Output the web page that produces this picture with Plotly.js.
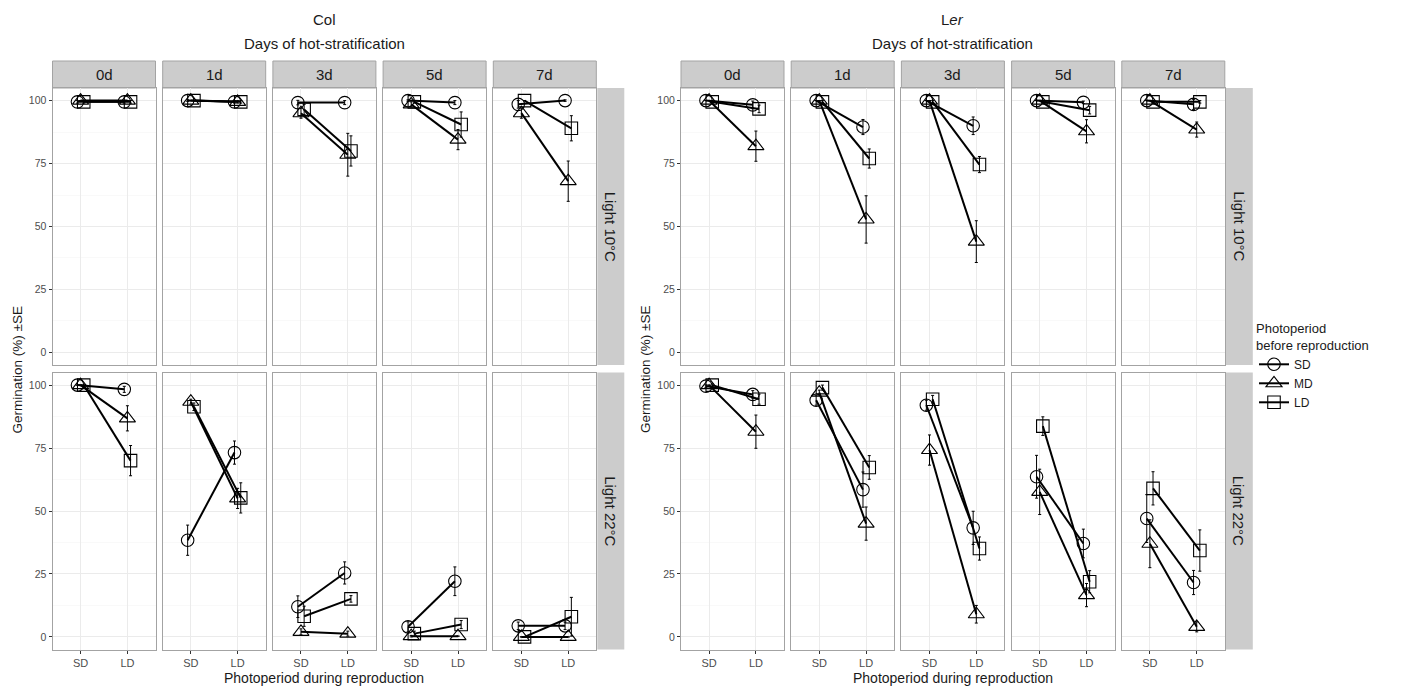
<!DOCTYPE html>
<html>
<head>
<meta charset="utf-8">
<script src="https://cdn.plot.ly/plotly-3.0.1.min.js"></script>
<style>html,body{margin:0;padding:0;background:#fff;}#chart{width:1403px;height:686px;}</style>
</head>
<body>
<div id="chart"></div>
<script>
// ---------- data ----------
const groups = ['Col', 'L<i>er</i>'];
const days = ['0d', '1d', '3d', '5d', '7d'];
const conditions = ['Light 10°C', 'Light 22°C'];
const photoDuring = ['SD', 'LD'];          // x categories
const photoBefore = ['SD', 'MD', 'LD'];    // series
const yTicks = [0, 25, 50, 75, 100];

// each entry: one day, [value at SD, value at LD]
// Col, Light 10°C
const col10_SD_mean = [[99.5, 99.5], [100, 99.5], [99.2, 99.2], [100, 99.2], [98.5, 100]];
const col10_SD_se   = [[0.5, 0.5], [0.3, 0.5], [0.9, 0.8], [0.3, 0.8], [1.5, 0.3]];
const col10_MD_mean = [[100, 100], [100, 99.5], [95, 78.5], [98.5, 84.5], [95, 68]];
const col10_MD_se   = [[0, 0], [0, 0.5], [2, 8.5], [1, 4], [2, 8]];
const col10_LD_mean = [[99.5, 99.5], [100, 99.5], [96.5, 80], [99.5, 90.5], [100, 89]];
const col10_LD_se   = [[0.5, 0.5], [0, 0.5], [2, 6], [0.5, 5], [0, 5]];
// Col, Light 22°C
const col22_SD_mean = [[100, 98.3], [38.4, 73.2], [12, 25.4], [4, 22.1], [4.4, 4.4]];
const col22_SD_se   = [[0, 1.2], [6, 4.6], [4.3, 4.4], [2, 5.7], [1.5, 1.5]];
const col22_MD_mean = [[100, 86.8], [93.4, 55], [2, 1.3], [0.3, 0.3], [0, 0]];
const col22_MD_se   = [[0, 5], [1, 4], [1.2, 1], [0.3, 0], [0, 0]];
const col22_LD_mean = [[100, 70], [91.4, 55.2], [8.2, 15.1], [1.3, 4.9], [0, 8]];
const col22_LD_se   = [[0, 6], [1.5, 6], [4, 1.3], [1, 1.6], [0, 7.7]];
// Ler, Light 10°C
const ler10_SD_mean = [[100, 98.3], [100, 89.5], [100, 90], [100, 99.3], [100, 98.5]];
const ler10_SD_se   = [[0, 1.5], [0, 3], [0, 3.5], [0, 0.5], [0, 2]];
const ler10_MD_mean = [[100, 81.9], [100, 52.8], [100, 44], [100, 87.8], [100, 88.5]];
const ler10_MD_se   = [[0, 6], [0, 9.4], [0, 8.3], [0, 4.6], [0, 3]];
const ler10_LD_mean = [[99.5, 96.7], [99.5, 77], [99.5, 74.6], [99.5, 96.2], [99.5, 99.5]];
const ler10_LD_se   = [[0.5, 1.5], [0.5, 3.8], [0.5, 3.2], [0.5, 1.5], [0.5, 0.5]];
// Ler, Light 22°C
const ler22_SD_mean = [[99.6, 96.3], [94, 58.5], [92, 43.3], [63.6, 37.1], [47, 21.6]];
const ler22_SD_se   = [[0.5, 1.5], [2, 7], [2, 6.6], [8.5, 5.7], [9.5, 4.8]];
const ler22_MD_mean = [[100, 81.5], [97, 45], [74.2, 9], [57.6, 16.6], [37, 4]];
const ler22_MD_se   = [[0, 6.6], [1, 6.6], [6, 3.5], [9, 4.6], [9.5, 2]];
const ler22_LD_mean = [[100, 94.4], [99, 67.3], [94.4, 35.1], [83.7, 21.9], [59, 34.3]];
const ler22_LD_se   = [[0.5, 2], [1, 4.7], [1.5, 4.6], [3.7, 4.4], [6.6, 8.2]];

const table = [
  [ [[col10_SD_mean, col10_SD_se], [col10_MD_mean, col10_MD_se], [col10_LD_mean, col10_LD_se]],
    [[col22_SD_mean, col22_SD_se], [col22_MD_mean, col22_MD_se], [col22_LD_mean, col22_LD_se]] ],
  [ [[ler10_SD_mean, ler10_SD_se], [ler10_MD_mean, ler10_MD_se], [ler10_LD_mean, ler10_LD_se]],
    [[ler22_SD_mean, ler22_SD_se], [ler22_MD_mean, ler22_MD_se], [ler22_LD_mean, ler22_LD_se]] ]
];

// ---------- layout geometry (pixels) ----------
const W = 1403, H = 686;
const groupLeft = [52.5, 681];
const step = 110.2, pw = 103;
const rowTop = [88, 372.5], ph = 277;
const headerH = 27, stripW = 27;
const symbols = ['circle-open', 'triangle-up-open', 'square-open'];
const dodge = [-0.067, 0, 0.067];
const FONT = 'Liberation Sans, Arial, sans-serif';

const px = v => v / W;
const py = v => 1 - v / H;

const traces = [];
const layout = {
  width: W, height: H,
  margin: {l: 0, r: 0, t: 0, b: 0},
  paper_bgcolor: '#fff', plot_bgcolor: '#fff',
  font: {family: FONT, color: '#1a1a1a'},
  showlegend: true,
  legend: {
    x: px(1254), y: py(316), xanchor: 'left', yanchor: 'top',
    title: {text: 'Photoperiod<br>before reproduction', font: {size: 13, color: '#1a1a1a'}},
    font: {size: 12, color: '#1a1a1a'},
    bgcolor: 'rgba(0,0,0,0)', tracegroupgap: 0, itemwidth: 30
  },
  shapes: [], annotations: []
};

for (let g = 0; g < 2; g++) {
  for (let r = 0; r < 2; r++) {
    for (let c = 0; c < 5; c++) {
      const k = g * 10 + r * 5 + c + 1;
      const xid = k === 1 ? 'x' : 'x' + k;
      const yid = k === 1 ? 'y' : 'y' + k;
      const left = groupLeft[g] + c * step;
      const top = rowTop[r];
      layout[k === 1 ? 'xaxis' : 'xaxis' + k] = {
        domain: [px(left), px(left + pw)], anchor: yid,
        range: [0.4, 2.6], tickvals: [1, 2], ticktext: photoDuring,
        showticklabels: r === 1, ticks: r === 1 ? 'outside' : '', ticklen: 3, tickcolor: '#333',
        tickfont: {size: 11, color: '#4d4d4d'},
        showgrid: true, gridcolor: '#ebebeb', gridwidth: 1, zeroline: false,
        showline: true, mirror: true, linecolor: '#a3a3a3', linewidth: 1, fixedrange: true
      };
      layout[k === 1 ? 'yaxis' : 'yaxis' + k] = {
        domain: [py(top + ph), py(top)], anchor: xid,
        range: [-5, 105], tickvals: yTicks, ticktext: yTicks.map(String),
        showticklabels: c === 0, ticks: c === 0 ? 'outside' : '', ticklen: 3, tickcolor: '#333',
        tickfont: {size: 10.5, color: '#4d4d4d'},
        showgrid: true, gridcolor: '#ebebeb', gridwidth: 1, zeroline: false,
        minor: {tickvals: [12.5, 37.5, 62.5, 87.5], showgrid: true, gridcolor: '#f5f5f5', gridwidth: 0.6, ticks: ''},
        showline: true, mirror: true, linecolor: '#a3a3a3', linewidth: 1, fixedrange: true
      };
      for (let s = 0; s < 3; s++) {
        const [means, ses] = table[g][r][s];
        traces.push({
          type: 'scatter', mode: 'lines+markers',
          x: photoDuring.map((_, i) => i + 1 + dodge[s]),
          y: means[c],
          error_y: {type: 'data', array: ses[c], visible: true, color: '#000', thickness: 1, width: 1.5},
          xaxis: xid, yaxis: yid,
          name: photoBefore[s], legendgroup: photoBefore[s],
          showlegend: k === 1,
          line: {color: '#000', width: 2},
          marker: {symbol: symbols[s], size: s === 1 ? 14 : 12.5, color: '#000', line: {width: 1.1, color: '#000'}},
          hoverinfo: 'skip'
        });
      }
      // top strip (days)
      if (r === 0) {
        layout.shapes.push({type: 'rect', xref: 'paper', yref: 'paper',
          x0: px(left), x1: px(left + pw), y0: py(top), y1: py(top - headerH),
          fillcolor: '#cccccc', line: {width: 1, color: '#a3a3a3'}, layer: 'below'});
        layout.annotations.push({xref: 'paper', yref: 'paper', x: px(left + pw / 2), y: py(top - headerH / 2),
          text: days[c], showarrow: false, font: {size: 15, color: '#1a1a1a'}, xanchor: 'center', yanchor: 'middle'});
      }
      // right strip (condition)
      if (c === 4) {
        layout.shapes.push({type: 'rect', xref: 'paper', yref: 'paper',
          x0: px(left + pw + 1), x1: px(left + pw + 1 + stripW), y0: py(top + ph), y1: py(top),
          fillcolor: '#cccccc', line: {width: 0}, layer: 'below'});
        layout.annotations.push({xref: 'paper', yref: 'paper', x: px(left + pw + 1 + stripW / 2), y: py(top + ph / 2),
          text: conditions[r], textangle: 90, showarrow: false, font: {size: 15, color: '#1a1a1a'},
          xanchor: 'center', yanchor: 'middle'});
      }
    }
  }
  // group titles
  const gCenter = groupLeft[g] + (4 * step + pw) / 2;
  layout.annotations.push({xref: 'paper', yref: 'paper', x: px(gCenter), y: py(19),
    text: groups[g], showarrow: false, font: {size: 15, color: '#1a1a1a'}, xanchor: 'center', yanchor: 'middle'});
  layout.annotations.push({xref: 'paper', yref: 'paper', x: px(gCenter), y: py(44),
    text: 'Days of hot-stratification', showarrow: false, font: {size: 15, color: '#1a1a1a'}, xanchor: 'center', yanchor: 'middle'});
  layout.annotations.push({xref: 'paper', yref: 'paper', x: px(gCenter), y: py(677.5),
    text: 'Photoperiod during reproduction', showarrow: false, font: {size: 14, color: '#1a1a1a'}, xanchor: 'center', yanchor: 'middle'});
  layout.annotations.push({xref: 'paper', yref: 'paper', x: px(groupLeft[g] - 36), y: py(370),
    text: 'Germination (%) ±SE', textangle: -90, showarrow: false, font: {size: 13.5, color: '#1a1a1a'}, xanchor: 'center', yanchor: 'middle'});
}

Plotly.newPlot('chart', traces, layout, {displayModeBar: false, staticPlot: true});
</script>
</body>
</html>
